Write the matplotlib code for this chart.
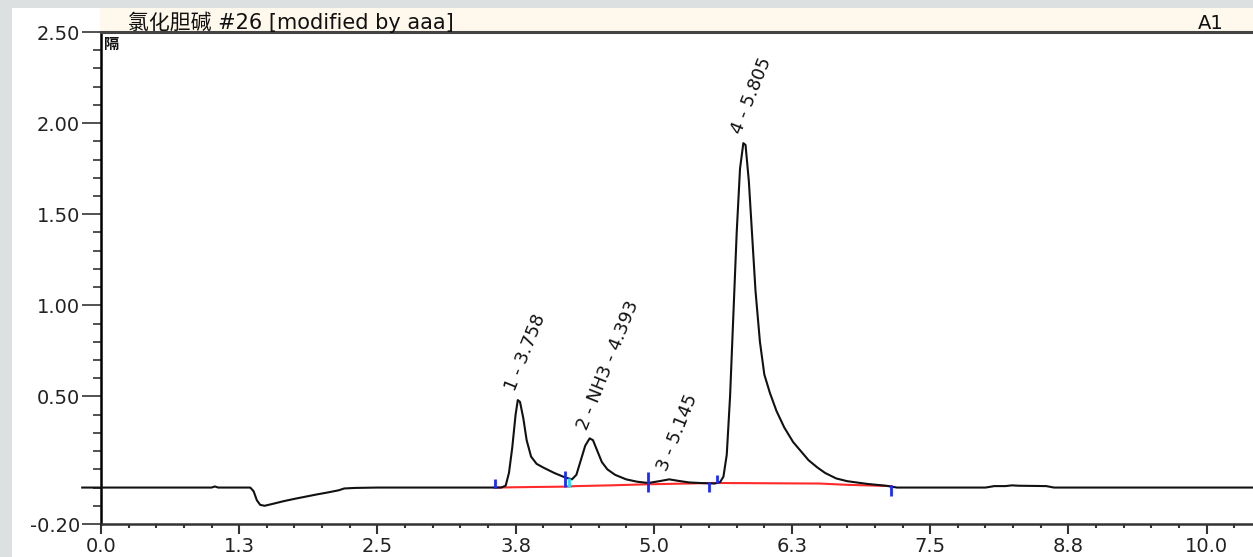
import matplotlib
matplotlib.use('Agg')
import matplotlib.pyplot as plt
from matplotlib.patches import Rectangle
from matplotlib.ticker import FixedLocator, MultipleLocator

# ---------------- data ----------------
title_cn = "氯化胆碱"
title_rest = " #26 [modified by aaa]"
channel = "A1"
unit_label = "隔"

trace_time = [-0.17, 1.00, 1.03, 1.06, 1.35, 1.38, 1.41, 1.44, 1.48, 1.55, 1.65, 1.75,
              1.85, 1.95, 2.05, 2.15, 2.20, 2.30, 2.50, 3.62, 3.66, 3.69, 3.72, 3.75,
              3.77, 3.79, 3.82, 3.85, 3.89, 3.94, 4.00, 4.10, 4.20, 4.26, 4.30, 4.34,
              4.38, 4.42, 4.45, 4.49, 4.53, 4.58, 4.65, 4.75, 4.85, 4.95, 5.05, 5.14,
              5.22, 5.32, 5.45, 5.55, 5.60, 5.63, 5.66, 5.69, 5.72, 5.75, 5.78, 5.81,
              5.83, 5.86, 5.89, 5.92, 5.96, 6.00, 6.05, 6.11, 6.18, 6.26, 6.33, 6.40,
              6.48, 6.55, 6.65, 6.75, 6.93, 7.10, 7.20, 8.00, 8.08, 8.18, 8.24, 8.30,
              8.55, 8.62, 10.45]
trace_signal = [0.0, 0.0, 0.006, 0.0, 0.0, -0.02, -0.07, -0.095, -0.10, -0.09, -0.075, -0.062,
                -0.05, -0.038, -0.027, -0.015, -0.005, -0.002, 0.0, 0.0, 0.01, 0.08, 0.22, 0.40,
                0.48, 0.47, 0.38, 0.26, 0.17, 0.13, 0.11, 0.08, 0.055, 0.045, 0.07, 0.15,
                0.23, 0.27, 0.26, 0.20, 0.14, 0.10, 0.07, 0.045, 0.032, 0.025, 0.035, 0.045,
                0.037, 0.028, 0.024, 0.022, 0.03, 0.06, 0.18, 0.50, 0.95, 1.40, 1.75, 1.89,
                1.88, 1.68, 1.38, 1.08, 0.80, 0.62, 0.52, 0.42, 0.33, 0.25, 0.20, 0.15,
                0.11, 0.08, 0.05, 0.035, 0.02, 0.01, 0.0, 0.0, 0.008, 0.008, 0.012, 0.01,
                0.008, 0.0, 0.0]

baseline_time = [3.56, 3.90, 4.20, 4.30, 4.60, 4.95, 5.30, 5.50, 5.60, 6.50, 6.75, 7.15]
baseline_signal = [0.0, 0.003, 0.005, 0.008, 0.012, 0.018, 0.022, 0.025, 0.025, 0.022, 0.015, 0.008]

# integration markers: time, low, high
marker_time = [3.56, 4.20, 4.95, 5.50, 5.57, 7.15]
marker_low = [0.0, 0.005, -0.025, -0.025, 0.025, -0.045]
marker_high = [0.045, 0.09, 0.085, 0.03, 0.07, 0.013]
cyan_time = [4.23]
cyan_low = [0.005]
cyan_high = [0.05]

peak_time = [3.77, 4.42, 5.14, 5.81]
peak_height = [0.48, 0.27, 0.045, 1.89]
peak_labels = ["1 - 3.758", "2 - NH3 - 4.393", "3 - 5.145", "4 - 5.805"]

xticks = [0.0, 1.25, 2.5, 3.75, 5.0, 6.25, 7.5, 8.75, 10.0]
xtick_labels = ["0.0", "1.3", "2.5", "3.8", "5.0", "6.3", "7.5", "8.8", "10.0"]
yticks = [-0.2, 0.5, 1.0, 1.5, 2.0, 2.5]
ytick_labels = ["-0.20", "0.50", "1.00", "1.50", "2.00", "2.50"]

# ---------------- figure ----------------
W, H = 1253, 557
fig = plt.figure(figsize=(W / 100, H / 100), dpi=100, facecolor='#DCE0E0')
fig.patches.append(Rectangle((12 / W, 0), 1, 1 - 8 / H, transform=fig.transFigure,
                             facecolor='white', edgecolor='none', zorder=-10))
fig.patches.append(Rectangle((100 / W, 1 - 32 / H), 1, 24 / H, transform=fig.transFigure,
                             facecolor='#FFF8EC', edgecolor='none', zorder=-9))

ax = fig.add_axes([101 / W, 1 - 524 / H, 1 - 101 / W, (524 - 32) / H])
ax.set_facecolor('none')
ax.set_xlim(0, 10.42)
ax.set_ylim(-0.2, 2.5)

ax.spines['right'].set_visible(False)
ax.spines['top'].set_color('#444444')
ax.spines['top'].set_linewidth(2.2)
ax.spines['bottom'].set_color('#333333')
ax.spines['bottom'].set_linewidth(1.8)
ax.spines['left'].set_color('#000000')
ax.spines['left'].set_linewidth(1.8)

ax.xaxis.set_major_locator(FixedLocator(xticks))
ax.set_xticklabels(xtick_labels)
ax.xaxis.set_minor_locator(MultipleLocator(0.25))
ax.yaxis.set_major_locator(FixedLocator(yticks))
ax.set_yticklabels(ytick_labels)
ax.yaxis.set_minor_locator(MultipleLocator(0.1))

ax.tick_params(axis='x', which='major', direction='out', length=7, width=1.5,
               color='#333333', labelsize=14, labelcolor='#222222', pad=2)
ax.tick_params(axis='x', which='minor', direction='out', length=3, width=1.5, color='#333333')
ax.tick_params(axis='y', which='major', direction='out', length=14, width=1.2,
               color='#333333', labelsize=14, labelcolor='#222222', pad=1)
ax.tick_params(axis='y', which='minor', direction='out', length=6, width=1.2, color='#333333')
for lab in ax.get_xticklabels() + ax.get_yticklabels():
    lab.set_family('DejaVu Sans')

# trace
ax.plot(trace_time, trace_signal, color='#111111', lw=1.5, clip_on=False, zorder=3)
# integration baseline
ax.plot(baseline_time, baseline_signal, color='#FF2A2A', lw=1.5, zorder=2)
# markers
ax.vlines(marker_time, marker_low, marker_high, color='#1A2CFF', lw=2, zorder=4)
ax.vlines(cyan_time, cyan_low, cyan_high, color='#22DDEE', lw=2, zorder=4)

# peak labels
for t, h, s in zip(peak_time, peak_height, peak_labels):
    ax.annotate(s, xy=(t, h), xytext=(-5, 7), textcoords='offset points',
                rotation=68, rotation_mode='anchor', ha='left', va='center',
                fontsize=13, color='#111111', family='DejaVu Sans')

# header texts
fig.text(128 / W, 1 - 29 / H, title_cn + title_rest, fontsize=15, color='#111111',
         family=['DejaVu Sans', 'Noto Sans CJK SC'], va='baseline', ha='left')
fig.text(1224 / W, 1 - 29 / H, channel, fontsize=14, color='#111111',
         family='DejaVu Sans', va='baseline', ha='right')
fig.text(104 / W, 1 - 49 / H, unit_label, fontsize=11, color='#111111', fontweight='bold',
         family=['Noto Sans CJK SC', 'DejaVu Sans'], va='baseline', ha='left')

fig.savefig('out.png', dpi=100, facecolor=fig.get_facecolor())
